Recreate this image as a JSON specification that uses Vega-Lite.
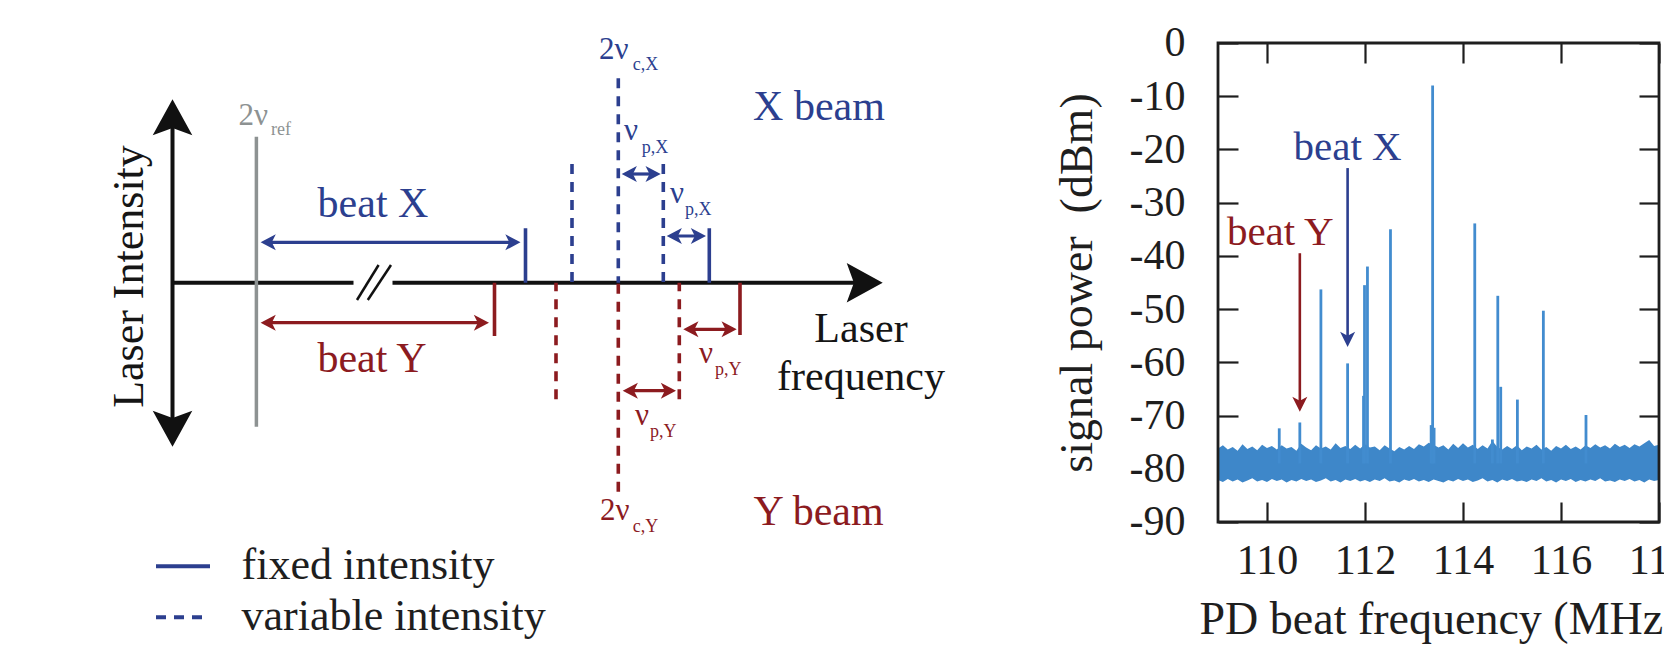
{
  "$schema": "https://vega.github.io/schema/vega-lite/v6.json",
  "width": 1664,
  "height": 652,
  "autosize": {"type": "none"},
  "padding": 0,
  "background": "white",
  "config": {
    "view": {"stroke": null},
    "font": "Liberation Serif",
    "axis": {"labelFont": "Liberation Serif", "titleFont": "Liberation Serif", "labelFontSize": 42, "titleFontSize": 46, "titleFontWeight": "normal"}
  },
  "datasets": {
    "axesLines": [
      {"x": 0, "y": 17.44, "x2": 0, "y2": -15.5},
      {"x": 0, "y": 0, "x2": 18.1, "y2": 0},
      {"x": 22.0, "y": 0, "x2": 70.12, "y2": 0}
    ],
    "breakMarks": [
      {"x": 18.45, "y": -1.73, "x2": 20.61, "y2": 1.77},
      {"x": 19.53, "y": -1.73, "x2": 21.85, "y2": 1.77}
    ],
    "axisHeads": [
      {"x": 0, "y": 17.44, "dir": "up"},
      {"x": 0, "y": -15.5, "dir": "down"},
      {"x": 70.12, "y": 0, "dir": "right"}
    ],
    "refLine": [{"x": 8.39, "y": 14.6, "y2": -14.4, "group": "ref"}],
    "modes": [
      {"x": 35.3, "peak": 5.44, "group": "X", "intensity": "fixed intensity"},
      {"x": 53.68, "peak": 5.44, "group": "X", "intensity": "fixed intensity"},
      {"x": 39.95, "peak": 11.87, "group": "X", "intensity": "variable intensity"},
      {"x": 44.58, "peak": 20.44, "group": "X", "intensity": "variable intensity"},
      {"x": 49.08, "peak": 11.87, "group": "X", "intensity": "variable intensity"},
      {"x": 32.2, "peak": -5.33, "group": "Y", "intensity": "fixed intensity"},
      {"x": 56.75, "peak": -5.23, "group": "Y", "intensity": "fixed intensity"},
      {"x": 38.35, "peak": -11.66, "group": "Y", "intensity": "variable intensity"},
      {"x": 44.58, "peak": -20.9, "group": "Y", "intensity": "variable intensity"},
      {"x": 50.68, "peak": -11.66, "group": "Y", "intensity": "variable intensity"}
    ],
    "gaps": [
      {"from": 9.21, "to": 34.4, "y": 4.04, "group": "X"},
      {"from": 9.21, "to": 31.25, "y": -4.0, "group": "Y"},
      {"from": 45.32, "to": 48.42, "y": 10.87, "group": "X"},
      {"from": 49.82, "to": 52.95, "y": 4.67, "group": "X"},
      {"from": 51.48, "to": 56.02, "y": -4.66, "group": "Y"},
      {"from": 45.42, "to": 49.95, "y": -10.8, "group": "Y"}
    ],
    "texts": [
      {"t": "beat X", "x": 20.05, "y": 6.6, "group": "X", "kind": "label"},
      {"t": "beat Y", "x": 19.95, "y": -8.9, "group": "Y", "kind": "label"},
      {"t": "X beam", "x": 64.65, "y": 16.27, "group": "X", "kind": "label"},
      {"t": "Y beam", "x": 64.6, "y": -24.23, "group": "Y", "kind": "label"},
      {"t": "Laser", "x": 68.85, "y": -5.9, "group": "plain", "kind": "label"},
      {"t": "frequency", "x": 68.85, "y": -10.73, "group": "plain", "kind": "label"},
      {"t": "2ν", "x": 6.6, "y": 15.77, "group": "ref", "kind": "greek"},
      {"t": "2ν", "x": 42.65, "y": 22.34, "group": "X", "kind": "greek"},
      {"t": "ν", "x": 45.15, "y": 14.27, "group": "X", "kind": "greek"},
      {"t": "ν", "x": 49.75, "y": 7.97, "group": "X", "kind": "greek"},
      {"t": "ν", "x": 52.65, "y": -8.06, "group": "Y", "kind": "greek"},
      {"t": "ν", "x": 46.25, "y": -14.23, "group": "Y", "kind": "greek"},
      {"t": "2ν", "x": 42.75, "y": -23.73, "group": "Y", "kind": "greek"},
      {"t": "ref", "x": 9.85, "y": 14.77, "group": "ref", "kind": "sub"},
      {"t": "c,X", "x": 46.02, "y": 21.27, "group": "X", "kind": "sub"},
      {"t": "p,X", "x": 46.92, "y": 12.97, "group": "X", "kind": "sub"},
      {"t": "p,X", "x": 51.25, "y": 6.77, "group": "X", "kind": "sub"},
      {"t": "p,Y", "x": 54.25, "y": -9.23, "group": "Y", "kind": "sub"},
      {"t": "p,Y", "x": 47.75, "y": -15.4, "group": "Y", "kind": "sub"},
      {"t": "c,Y", "x": 46.02, "y": -24.9, "group": "Y", "kind": "sub"},
      {"t": "Laser Intensity", "x": -2.95, "y": 0.62, "group": "plain", "kind": "axis"}
    ],
    "band": [
      {"f": 109.0, "lo": -82.1, "hi": -76.2}, {"f": 109.1, "lo": -82.5, "hi": -75.6}, {"f": 109.2, "lo": -81.9, "hi": -76.4},
      {"f": 109.3, "lo": -82.4, "hi": -75.9}, {"f": 109.4, "lo": -82.0, "hi": -76.6}, {"f": 109.5, "lo": -82.6, "hi": -75.4},
      {"f": 109.6, "lo": -82.2, "hi": -76.3}, {"f": 109.7, "lo": -81.8, "hi": -75.8}, {"f": 109.8, "lo": -82.4, "hi": -76.5},
      {"f": 109.9, "lo": -82.1, "hi": -75.5}, {"f": 110.0, "lo": -82.5, "hi": -76.1}, {"f": 110.1, "lo": -81.9, "hi": -75.7},
      {"f": 110.2, "lo": -82.3, "hi": -76.4}, {"f": 110.3, "lo": -82.0, "hi": -75.6}, {"f": 110.4, "lo": -82.6, "hi": -76.2},
      {"f": 110.5, "lo": -82.1, "hi": -75.9}, {"f": 110.6, "lo": -82.4, "hi": -76.6}, {"f": 110.7, "lo": -81.9, "hi": -75.3},
      {"f": 110.8, "lo": -82.3, "hi": -76.0}, {"f": 110.9, "lo": -82.0, "hi": -76.5}, {"f": 111.0, "lo": -82.5, "hi": -75.6},
      {"f": 111.1, "lo": -82.2, "hi": -76.2}, {"f": 111.2, "lo": -81.8, "hi": -75.8}, {"f": 111.3, "lo": -82.4, "hi": -76.4},
      {"f": 111.4, "lo": -82.1, "hi": -75.2}, {"f": 111.5, "lo": -82.6, "hi": -76.1}, {"f": 111.6, "lo": -82.0, "hi": -75.7},
      {"f": 111.7, "lo": -82.3, "hi": -76.3}, {"f": 111.8, "lo": -81.9, "hi": -75.5}, {"f": 111.9, "lo": -82.4, "hi": -76.2},
      {"f": 112.0, "lo": -82.1, "hi": -75.4}, {"f": 112.1, "lo": -82.5, "hi": -76.0}, {"f": 112.2, "lo": -82.0, "hi": -75.8},
      {"f": 112.3, "lo": -82.3, "hi": -76.5}, {"f": 112.4, "lo": -81.8, "hi": -75.6}, {"f": 112.5, "lo": -82.4, "hi": -76.2},
      {"f": 112.6, "lo": -82.2, "hi": -76.7}, {"f": 112.7, "lo": -82.6, "hi": -75.9}, {"f": 112.8, "lo": -82.0, "hi": -76.4},
      {"f": 112.9, "lo": -82.3, "hi": -75.7}, {"f": 113.0, "lo": -81.9, "hi": -76.3}, {"f": 113.1, "lo": -82.4, "hi": -75.4},
      {"f": 113.2, "lo": -82.1, "hi": -75.8}, {"f": 113.3, "lo": -82.5, "hi": -75.1}, {"f": 113.4, "lo": -82.0, "hi": -75.5},
      {"f": 113.5, "lo": -82.3, "hi": -76.0}, {"f": 113.6, "lo": -82.6, "hi": -75.6}, {"f": 113.7, "lo": -82.1, "hi": -76.4},
      {"f": 113.8, "lo": -82.4, "hi": -75.3}, {"f": 113.9, "lo": -81.9, "hi": -76.1}, {"f": 114.0, "lo": -82.3, "hi": -75.2},
      {"f": 114.1, "lo": -82.0, "hi": -76.0}, {"f": 114.2, "lo": -82.5, "hi": -75.5}, {"f": 114.3, "lo": -82.2, "hi": -76.3},
      {"f": 114.4, "lo": -81.8, "hi": -75.6}, {"f": 114.5, "lo": -82.4, "hi": -76.2}, {"f": 114.6, "lo": -82.1, "hi": -74.8},
      {"f": 114.7, "lo": -82.6, "hi": -75.9}, {"f": 114.8, "lo": -82.0, "hi": -76.4}, {"f": 114.9, "lo": -82.3, "hi": -75.7},
      {"f": 115.0, "lo": -81.9, "hi": -76.3}, {"f": 115.1, "lo": -82.4, "hi": -75.6}, {"f": 115.2, "lo": -82.2, "hi": -76.5},
      {"f": 115.3, "lo": -82.5, "hi": -75.8}, {"f": 115.4, "lo": -82.0, "hi": -76.2}, {"f": 115.5, "lo": -82.3, "hi": -75.5},
      {"f": 115.6, "lo": -81.8, "hi": -76.4}, {"f": 115.7, "lo": -82.4, "hi": -75.9}, {"f": 115.8, "lo": -82.1, "hi": -76.6},
      {"f": 115.9, "lo": -82.6, "hi": -75.7}, {"f": 116.0, "lo": -82.0, "hi": -76.2}, {"f": 116.1, "lo": -82.3, "hi": -75.5},
      {"f": 116.2, "lo": -81.9, "hi": -76.3}, {"f": 116.3, "lo": -82.5, "hi": -75.8}, {"f": 116.4, "lo": -82.1, "hi": -76.4},
      {"f": 116.5, "lo": -82.4, "hi": -75.6}, {"f": 116.6, "lo": -82.0, "hi": -76.1}, {"f": 116.7, "lo": -82.3, "hi": -75.4},
      {"f": 116.8, "lo": -81.8, "hi": -76.0}, {"f": 116.9, "lo": -82.4, "hi": -75.6}, {"f": 117.0, "lo": -82.2, "hi": -76.2},
      {"f": 117.1, "lo": -82.5, "hi": -75.3}, {"f": 117.2, "lo": -82.0, "hi": -75.9}, {"f": 117.3, "lo": -82.3, "hi": -75.5},
      {"f": 117.4, "lo": -81.9, "hi": -76.1}, {"f": 117.5, "lo": -82.4, "hi": -75.4}, {"f": 117.6, "lo": -82.1, "hi": -75.8},
      {"f": 117.7, "lo": -82.6, "hi": -75.2}, {"f": 117.8, "lo": -82.0, "hi": -74.6}, {"f": 117.9, "lo": -82.3, "hi": -75.7},
      {"f": 118.0, "lo": -82.1, "hi": -75.5}
    ],
    "peaks": [
      {"f": 110.25, "p": -72.4}, {"f": 110.67, "p": -71.3}, {"f": 111.10, "p": -46.3}, {"f": 111.645, "p": -60.2},
      {"f": 111.97, "p": -66.3}, {"f": 111.99, "p": -45.5}, {"f": 112.05, "p": -42.0}, {"f": 112.52, "p": -35.0},
      {"f": 113.35, "p": -71.8}, {"f": 113.38, "p": -8.0}, {"f": 113.41, "p": -72.3}, {"f": 114.24, "p": -33.9},
      {"f": 114.60, "p": -74.5}, {"f": 114.71, "p": -47.5}, {"f": 114.77, "p": -64.6}, {"f": 115.11, "p": -67.0},
      {"f": 115.64, "p": -50.3}, {"f": 116.51, "p": -69.9}
    ],
    "frame": [{"f0": 109, "f1": 118, "p0": -90, "p1": 0}],
    "specArrows": [
      {"f": 110.67, "from": -39.5, "to": -68.55, "group": "Y"},
      {"f": 111.645, "from": -23.5, "to": -56.35, "group": "X"}
    ],
    "specLabels": [
      {"t": "beat X", "f": 111.645, "p": -21.98, "group": "X"},
      {"t": "beat Y", "f": 110.27, "p": -37.96, "group": "Y"}
    ]
  },
  "layer": [
    {
      "layer": [
        {
          "data": {"name": "axesLines"},
          "mark": {"type": "rule", "color": "#111111", "strokeWidth": 4},
          "encoding": {
            "x": {"field": "x", "type": "quantitative", "scale": {"domain": [-17.25, 149.15], "nice": false, "zero": false}, "axis": null},
            "y": {"field": "y", "type": "quantitative", "scale": {"domain": [-36.93, 28.27], "nice": false, "zero": false}, "axis": null},
            "x2": {"field": "x2"},
            "y2": {"field": "y2"}
          }
        },
        {
          "data": {"name": "breakMarks"},
          "mark": {"type": "rule", "color": "#111111", "strokeWidth": 2.5},
          "encoding": {
            "x": {"field": "x", "type": "quantitative", "scale": {"domain": [-17.25, 149.15], "nice": false, "zero": false}, "axis": null},
            "y": {"field": "y", "type": "quantitative", "scale": {"domain": [-36.93, 28.27], "nice": false, "zero": false}, "axis": null},
            "x2": {"field": "x2"},
            "y2": {"field": "y2"}
          }
        },
        {
          "data": {"name": "axisHeads"},
          "transform": [{"filter": "datum.dir === 'up'"}],
          "mark": {"type": "point", "filled": true, "opacity": 1, "color": "#111111", "size": 5184, "strokeWidth": 0, "shape": "M0,-0.25 L0.55,0.75 L0,0.55 L-0.55,0.75 Z"},
          "encoding": {
            "x": {"field": "x", "type": "quantitative", "scale": {"domain": [-17.25, 149.15], "nice": false, "zero": false}, "axis": null},
            "y": {"field": "y", "type": "quantitative", "scale": {"domain": [-36.93, 28.27], "nice": false, "zero": false}, "axis": null}
          }
        },
        {
          "data": {"name": "axisHeads"},
          "transform": [{"filter": "datum.dir === 'down'"}],
          "mark": {"type": "point", "filled": true, "opacity": 1, "color": "#111111", "size": 5184, "strokeWidth": 0, "shape": "M0,0.25 L0.55,-0.75 L0,-0.55 L-0.55,-0.75 Z"},
          "encoding": {
            "x": {"field": "x", "type": "quantitative", "scale": {"domain": [-17.25, 149.15], "nice": false, "zero": false}, "axis": null},
            "y": {"field": "y", "type": "quantitative", "scale": {"domain": [-36.93, 28.27], "nice": false, "zero": false}, "axis": null}
          }
        },
        {
          "data": {"name": "axisHeads"},
          "transform": [{"filter": "datum.dir === 'right'"}],
          "mark": {"type": "point", "filled": true, "opacity": 1, "color": "#111111", "size": 5184, "strokeWidth": 0, "shape": "M0.25,0 L-0.75,0.55 L-0.55,0 L-0.75,-0.55 Z"},
          "encoding": {
            "x": {"field": "x", "type": "quantitative", "scale": {"domain": [-17.25, 149.15], "nice": false, "zero": false}, "axis": null},
            "y": {"field": "y", "type": "quantitative", "scale": {"domain": [-36.93, 28.27], "nice": false, "zero": false}, "axis": null}
          }
        },
        {
          "data": {"name": "refLine"},
          "mark": {"type": "rule", "strokeWidth": 3.5},
          "encoding": {
            "x": {"field": "x", "type": "quantitative", "scale": {"domain": [-17.25, 149.15], "nice": false, "zero": false}, "axis": null},
            "y": {"field": "y", "type": "quantitative", "scale": {"domain": [-36.93, 28.27], "nice": false, "zero": false}, "axis": null},
            "y2": {"field": "y2"},
            "color": {"field": "group", "type": "nominal", "scale": {"domain": ["X", "Y", "ref", "plain"], "range": ["#2c3f8f", "#8c1b1f", "#8d9292", "#151515"]}, "legend": null}
          }
        },
        {
          "data": {"name": "modes"},
          "mark": {"type": "rule", "strokeWidth": 3.6},
          "encoding": {
            "x": {"field": "x", "type": "quantitative", "scale": {"domain": [-17.25, 149.15], "nice": false, "zero": false}, "axis": null},
            "y": {"field": "peak", "type": "quantitative", "scale": {"domain": [-36.93, 28.27], "nice": false, "zero": false}, "axis": null},
            "y2": {"datum": 0},
            "color": {"field": "group", "type": "nominal", "scale": {"domain": ["X", "Y", "ref", "plain"], "range": ["#2c3f8f", "#8c1b1f", "#8d9292", "#151515"]}, "legend": null},
            "strokeDash": {
              "field": "intensity", "type": "nominal",
              "scale": {"domain": ["fixed intensity", "variable intensity"], "range": [[1, 0], [10, 8]]},
              "legend": {
                "title": null, "orient": "none", "legendX": 154, "legendY": 537.3,
                "symbolType": "stroke", "symbolSize": 2916, "symbolStrokeWidth": 4,
                "symbolStrokeColor": "#2c3f8f", "symbolOffset": 0, "padding": 0, "offset": 0,
                "rowPadding": 0, "labelOffset": 29.5, "labelLimit": 0,
                "labelFont": "Liberation Serif", "labelFontSize": 44, "labelColor": "#1e1e1e",
                "encode": {"symbols": {"update": {"stroke": {"value": "#2c3f8f"}}}}
              }
            }
          }
        },
        {
          "data": {"name": "gaps"},
          "mark": {"type": "rule", "strokeWidth": 3.2},
          "encoding": {
            "x": {"field": "from", "type": "quantitative", "scale": {"domain": [-17.25, 149.15], "nice": false, "zero": false}, "axis": null},
            "x2": {"field": "to"},
            "y": {"field": "y", "type": "quantitative", "scale": {"domain": [-36.93, 28.27], "nice": false, "zero": false}, "axis": null},
            "color": {"field": "group", "type": "nominal", "scale": {"domain": ["X", "Y", "ref", "plain"], "range": ["#2c3f8f", "#8c1b1f", "#8d9292", "#151515"]}, "legend": null}
          }
        },
        {
          "data": {"name": "gaps"},
          "mark": {"type": "point", "filled": true, "opacity": 1, "size": 1024, "strokeWidth": 0, "shape": "M-0.25,0 L0.7,-0.5 L0.45,0 L0.7,0.5 Z"},
          "encoding": {
            "x": {"field": "from", "type": "quantitative", "scale": {"domain": [-17.25, 149.15], "nice": false, "zero": false}, "axis": null},
            "y": {"field": "y", "type": "quantitative", "scale": {"domain": [-36.93, 28.27], "nice": false, "zero": false}, "axis": null},
            "color": {"field": "group", "type": "nominal", "scale": {"domain": ["X", "Y", "ref", "plain"], "range": ["#2c3f8f", "#8c1b1f", "#8d9292", "#151515"]}, "legend": null}
          }
        },
        {
          "data": {"name": "gaps"},
          "mark": {"type": "point", "filled": true, "opacity": 1, "size": 1024, "strokeWidth": 0, "shape": "M0.25,0 L-0.7,-0.5 L-0.45,0 L-0.7,0.5 Z"},
          "encoding": {
            "x": {"field": "to", "type": "quantitative", "scale": {"domain": [-17.25, 149.15], "nice": false, "zero": false}, "axis": null},
            "y": {"field": "y", "type": "quantitative", "scale": {"domain": [-36.93, 28.27], "nice": false, "zero": false}, "axis": null},
            "color": {"field": "group", "type": "nominal", "scale": {"domain": ["X", "Y", "ref", "plain"], "range": ["#2c3f8f", "#8c1b1f", "#8d9292", "#151515"]}, "legend": null}
          }
        },
        {
          "data": {"name": "texts"},
          "transform": [{"filter": "datum.kind === 'label'"}],
          "mark": {"type": "text", "font": "Liberation Serif", "fontSize": 42, "align": "center", "baseline": "alphabetic"},
          "encoding": {
            "x": {"field": "x", "type": "quantitative", "scale": {"domain": [-17.25, 149.15], "nice": false, "zero": false}, "axis": null},
            "y": {"field": "y", "type": "quantitative", "scale": {"domain": [-36.93, 28.27], "nice": false, "zero": false}, "axis": null},
            "text": {"field": "t"},
            "color": {"field": "group", "type": "nominal", "scale": {"domain": ["X", "Y", "ref", "plain"], "range": ["#2c3f8f", "#8c1b1f", "#8d9292", "#151515"]}, "legend": null}
          }
        },
        {
          "data": {"name": "texts"},
          "transform": [{"filter": "datum.kind === 'greek'"}],
          "mark": {"type": "text", "font": "Liberation Serif", "fontSize": 31, "align": "left", "baseline": "alphabetic"},
          "encoding": {
            "x": {"field": "x", "type": "quantitative", "scale": {"domain": [-17.25, 149.15], "nice": false, "zero": false}, "axis": null},
            "y": {"field": "y", "type": "quantitative", "scale": {"domain": [-36.93, 28.27], "nice": false, "zero": false}, "axis": null},
            "text": {"field": "t"},
            "color": {"field": "group", "type": "nominal", "scale": {"domain": ["X", "Y", "ref", "plain"], "range": ["#2c3f8f", "#8c1b1f", "#8d9292", "#151515"]}, "legend": null}
          }
        },
        {
          "data": {"name": "texts"},
          "transform": [{"filter": "datum.kind === 'sub'"}],
          "mark": {"type": "text", "font": "Liberation Serif", "fontSize": 18, "align": "left", "baseline": "alphabetic"},
          "encoding": {
            "x": {"field": "x", "type": "quantitative", "scale": {"domain": [-17.25, 149.15], "nice": false, "zero": false}, "axis": null},
            "y": {"field": "y", "type": "quantitative", "scale": {"domain": [-36.93, 28.27], "nice": false, "zero": false}, "axis": null},
            "text": {"field": "t"},
            "color": {"field": "group", "type": "nominal", "scale": {"domain": ["X", "Y", "ref", "plain"], "range": ["#2c3f8f", "#8c1b1f", "#8d9292", "#151515"]}, "legend": null}
          }
        },
        {
          "data": {"name": "texts"},
          "transform": [{"filter": "datum.kind === 'axis'"}],
          "mark": {"type": "text", "font": "Liberation Serif", "fontSize": 44, "align": "center", "baseline": "alphabetic", "angle": 270},
          "encoding": {
            "x": {"field": "x", "type": "quantitative", "scale": {"domain": [-17.25, 149.15], "nice": false, "zero": false}, "axis": null},
            "y": {"field": "y", "type": "quantitative", "scale": {"domain": [-36.93, 28.27], "nice": false, "zero": false}, "axis": null},
            "text": {"field": "t"},
            "color": {"field": "group", "type": "nominal", "scale": {"domain": ["X", "Y", "ref", "plain"], "range": ["#2c3f8f", "#8c1b1f", "#8d9292", "#151515"]}, "legend": null}
          }
        }
      ]
    },
    {
      "layer": [
        {
          "data": {"name": "band"},
          "mark": {"type": "area", "color": "#3e87c9", "opacity": 1},
          "encoding": {
            "x": {"field": "f", "type": "quantitative", "scale": {"domain": [84.143, 118.102], "nice": false, "zero": false},
              "axis": {"orient": "top", "offset": -43, "values": [110, 112, 114, 116, 118], "labels": false, "ticks": true, "tickSize": -20, "tickWidth": 2.2, "tickColor": "#1e1e1e", "domain": false, "grid": false, "title": null}},
            "y": {"field": "hi", "type": "quantitative", "scale": {"domain": [-114.426, 8.079], "nice": false, "zero": false},
              "axis": {"orient": "right", "offset": -5, "values": [-90, -80, -70, -60, -50, -40, -30, -20, -10, 0], "labels": false, "ticks": true, "tickSize": -20, "tickWidth": 2.2, "tickColor": "#1e1e1e", "domain": false, "grid": false, "title": null}},
            "y2": {"field": "lo"}
          }
        },
        {
          "data": {"name": "peaks"},
          "mark": {"type": "rule", "color": "#428ccf", "strokeWidth": 2.8},
          "encoding": {
            "x": {"field": "f", "type": "quantitative", "scale": {"domain": [84.143, 118.102], "nice": false, "zero": false}, "axis": null},
            "y": {"field": "p", "type": "quantitative", "scale": {"domain": [-114.426, 8.079], "nice": false, "zero": false}, "axis": null},
            "y2": {"datum": -79}
          }
        },
        {
          "data": {"name": "frame"},
          "mark": {"type": "rect", "filled": false, "color": "#1e1e1e", "strokeWidth": 2.8},
          "encoding": {
            "x": {"field": "f0", "type": "quantitative", "scale": {"domain": [84.143, 118.102], "nice": false, "zero": false},
              "axis": {"orient": "bottom", "offset": -130, "values": [110, 112, 114, 116, 118], "ticks": true, "tickSize": -20, "tickWidth": 2.2, "tickColor": "#1e1e1e", "domain": false, "grid": false,
                "labelFont": "Liberation Serif", "labelFontSize": 42, "labelColor": "#1e1e1e", "labelPadding": 38, "labelFlush": false, "labelOverlap": false,
                "title": "PD beat frequency (MHz)", "titleFont": "Liberation Serif", "titleFontSize": 46, "titleFontWeight": "normal", "titleColor": "#1e1e1e",
                "titleX": 1438.5, "titleY": 111, "titleBaseline": "alphabetic", "titleAlign": "center"}},
            "x2": {"field": "f1"},
            "y": {"field": "p0", "type": "quantitative", "scale": {"domain": [-114.426, 8.079], "nice": false, "zero": false},
              "axis": {"orient": "left", "offset": -1218, "values": [-90, -80, -70, -60, -50, -40, -30, -20, -10, 0], "ticks": true, "tickSize": -20, "tickWidth": 2.2, "tickColor": "#1e1e1e", "domain": false, "grid": false,
                "labelFont": "Liberation Serif", "labelFontSize": 42, "labelColor": "#1e1e1e", "labelPadding": 53, "labelFlush": false, "labelOverlap": false, "labelExpr": "'' + datum.value",
                "title": "signal power\u00a0 (dBm)", "titleFont": "Liberation Serif", "titleFontSize": 46, "titleFontWeight": "normal", "titleColor": "#1e1e1e",
                "titleX": -127, "titleY": 282.5, "titleAngle": 270, "titleBaseline": "alphabetic", "titleAlign": "center"}},
            "y2": {"field": "p1"}
          }
        },
        {
          "data": {"name": "specArrows"},
          "mark": {"type": "rule", "strokeWidth": 2.6},
          "encoding": {
            "x": {"field": "f", "type": "quantitative", "scale": {"domain": [84.143, 118.102], "nice": false, "zero": false}, "axis": null},
            "y": {"field": "from", "type": "quantitative", "scale": {"domain": [-114.426, 8.079], "nice": false, "zero": false}, "axis": null},
            "y2": {"field": "to"},
            "color": {"field": "group", "type": "nominal", "scale": {"domain": ["X", "Y", "ref", "plain"], "range": ["#2c3f8f", "#8c1b1f", "#8d9292", "#151515"]}, "legend": null}
          }
        },
        {
          "data": {"name": "specArrows"},
          "mark": {"type": "point", "filled": true, "opacity": 1, "size": 1024, "strokeWidth": 0, "shape": "M0,0.25 L0.47,-0.7 L0,-0.45 L-0.47,-0.7 Z"},
          "encoding": {
            "x": {"field": "f", "type": "quantitative", "scale": {"domain": [84.143, 118.102], "nice": false, "zero": false}, "axis": null},
            "y": {"field": "to", "type": "quantitative", "scale": {"domain": [-114.426, 8.079], "nice": false, "zero": false}, "axis": null},
            "color": {"field": "group", "type": "nominal", "scale": {"domain": ["X", "Y", "ref", "plain"], "range": ["#2c3f8f", "#8c1b1f", "#8d9292", "#151515"]}, "legend": null}
          }
        },
        {
          "data": {"name": "specLabels"},
          "mark": {"type": "text", "font": "Liberation Serif", "fontSize": 41, "align": "center", "baseline": "alphabetic"},
          "encoding": {
            "x": {"field": "f", "type": "quantitative", "scale": {"domain": [84.143, 118.102], "nice": false, "zero": false}, "axis": null},
            "y": {"field": "p", "type": "quantitative", "scale": {"domain": [-114.426, 8.079], "nice": false, "zero": false}, "axis": null},
            "text": {"field": "t"},
            "color": {"field": "group", "type": "nominal", "scale": {"domain": ["X", "Y", "ref", "plain"], "range": ["#2c3f8f", "#8c1b1f", "#8d9292", "#151515"]}, "legend": null}
          }
        }
      ],
      "resolve": {"axis": {"x": "independent", "y": "independent"}}
    }
  ],
  "resolve": {"scale": {"x": "independent", "y": "independent"}}
}
